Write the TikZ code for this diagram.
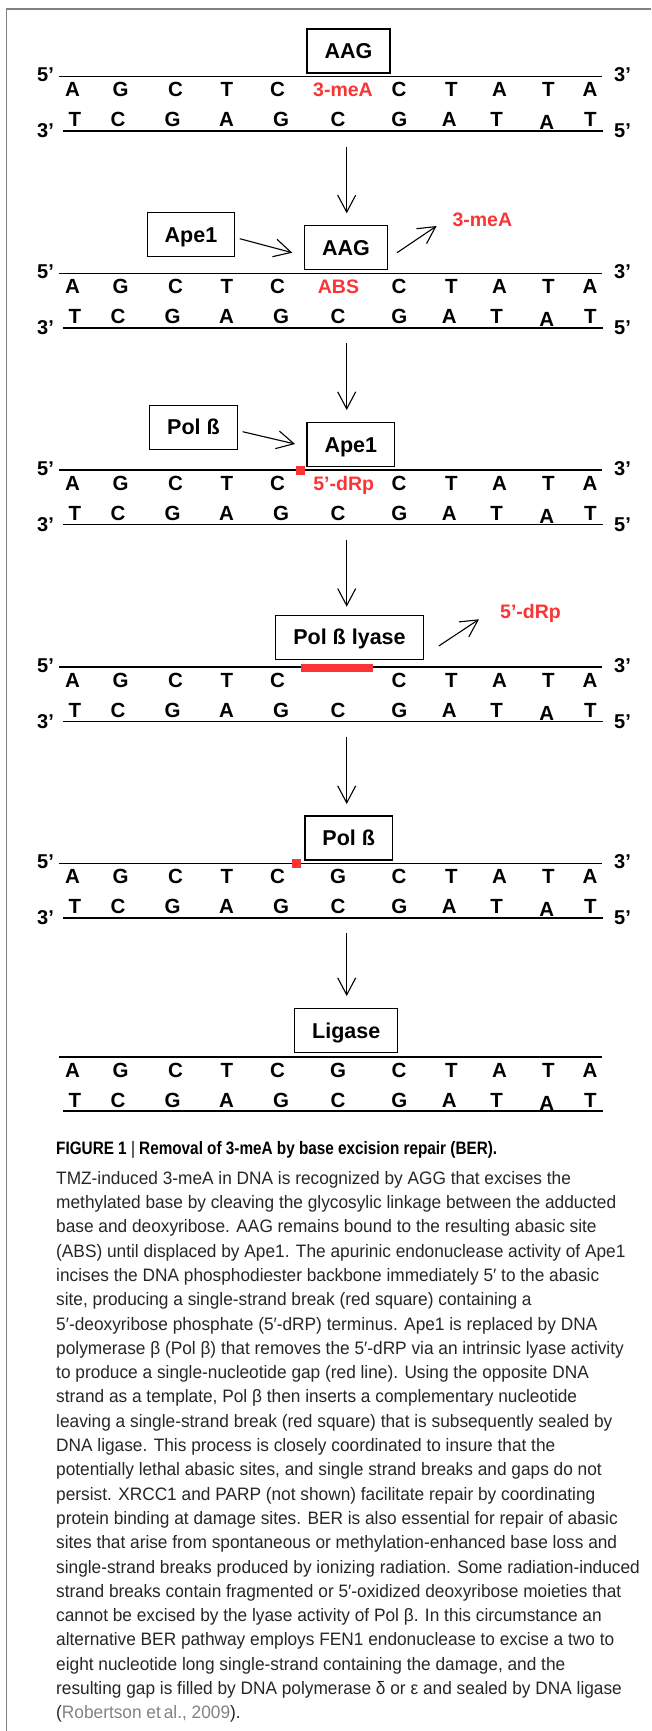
\documentclass[tikz,border=0pt]{standalone}
\usepackage{fontspec}
\setmainfont{Liberation Sans}
\newfontfamily\titlefont{Liberation Sans}[FakeStretch=0.85]
\newfontfamily\legendfont{Liberation Sans}[FakeStretch=0.96]
\usetikzlibrary{arrows.meta,calc}
\definecolor{lesion}{RGB}{250,52,52}
\definecolor{cite}{RGB}{130,130,130}
\tikzset{>={Straight Barb[length=17pt,width=18pt]}}
\def\nucfont{\fontsize{20.5}{20.5}\selectfont\bfseries}
\def\boxfont{\fontsize{21.5}{21.5}\selectfont\bfseries}
\def\endfont{\fontsize{20}{20}\selectfont\bfseries}
\def\redfont{\fontsize{19.5}{19.5}\selectfont\bfseries}

% duplex: top strand at y=#1, names start with #2 (site column left open)
\newcommand\dna[2]{%
  \coordinate (#2tl) at (59,#1);  \coordinate (#2tr) at (602,#1);
  \coordinate (#2bl) at (63,#1+54.5); \coordinate (#2br) at (603,#1+54.5);
  \draw[strand] (#2tl) -- (#2tr);
  \draw[strand] (#2bl) -- (#2br);
  \foreach \x/\b [count=\i] in {72.6/A,120.5/G,175.5/C,227/T,277.5/C,399/C,451.5/T,499.5/A,548.5/T,590/A}
    \node[nuc] (#2t\i) at (\x,#1+20.3) {\b};
  \foreach \x/\b/\d [count=\i] in {75/T/0,118/C/0,172.7/G/0,226.5/A/0,281/G/0,338/C/0,399.3/G/0,449.3/A/0,496.7/T/0,546.7/A/3,590.3/T/0}
    \node[nuc] (#2b\i) at (\x,#1+50.3+\d) {\b};
}
\newcommand\primes[2]{%
  \node[prime] (#2a) at (37,#1+5.3) {5’};
  \node[prime] (#2b) at (614,#1+5.3) {3’};
  \node[prime] (#2c) at (37,#1+61.3) {3’};
  \node[prime] (#2d) at (614,#1+61.3) {5’};
}

\begin{document}
\begin{tikzpicture}[x=1pt,y=-1pt,
    nuc/.style={font=\nucfont,inner sep=0pt,anchor=base},
    hit/.style={font=\redfont,text=lesion,inner sep=0pt},
    prime/.style={font=\endfont,inner sep=0pt,anchor=base west},
    enz/.style={draw,line width=1.3pt,font=\boxfont,inner xsep=17.5pt,
      inner ysep=14.3pt,text height=15.4pt,text depth=0pt},
    strand/.style={line width=1.6pt},
    flow/.style={->,line width=1.1pt},
    nick/.style={fill=lesion,minimum size=9.3pt,inner sep=0pt}]
  \useasboundingbox (0,0) rectangle (651,1731);
  % frame
  \draw[gray,line width=1.3pt] (6.7,1731) -- (6.7,9) -- (651,9);

  % AAG finds 3-meA
  \node[enz] (aag1) at (348.5,51) {AAG};
  \dna{76.7}{s1} \primes{76.7}{p1}
  \node[hit,anchor=base] (meA) at (343,97) {3-meA};

  % Ape1 displaces AAG
  \node[enz] (ape2) at (191,234.7) {Ape1};
  \node[enz] (aag2) at (346,247.7) {AAG};
  \node[hit] (meAout) at (482.3,220) {3-meA};
  \draw[flow] ($(ape2.east)+(4.3,4)$) -- ($(aag2.west)+(-11.7,5)$);
  \draw[flow] ($(aag2.east)+(9,5)$) -- ($(meAout.west)+(-15.7,6)$);
  \dna{273.3}{s2} \primes{273.3}{p2}
  \node[hit,anchor=base] (abs) at (338.5,293.6) {ABS};

  % Ape1 cuts 5' of the ABS
  \node[enz] (pol3) at (193.5,427.2) {Pol ß};
  \node[enz] (ape3) at (350.8,444.7) {Ape1};
  \draw[flow] ($(pol3.east)+(4.7,4.5)$) -- ($(ape3.west)+(-11.3,-0.7)$);
  \dna{470}{s3} \primes{470}{p3}
  \node[nick] (cut3) at (300.3,470.5) {};
  \node[hit,anchor=base] (drp) at (343.7,490.3) {5’-dRp};

  % Pol beta lyase removes 5'-dRp
  \node[enz] (lya4) at (349.5,637.2) {Pol ß lyase};
  \node[hit] (drpout) at (530.5,613.7) {5’-dRp};
  \draw[flow] ($(lya4.east)+(15,8.8)$) -- ($(drpout.west)+(-21,5.6)$);
  \dna{667}{s4} \primes{667}{p4}
  \draw[lesion,line width=8.7pt] (300.7,668) -- (373.3,668);

  % Pol beta fills the gap
  \node[enz] (pol5) at (348.7,838) {Pol ß};
  \dna{863.3}{s5} \primes{863.3}{p5}
  \node[nick] (cut5) at (296.4,863.7) {};
  \node[nuc] (fill5) at (338,883.6) {G};

  % ligase seals
  \node[enz] (lig6) at (346.2,1030.7) {Ligase};
  \dna{1056.7}{s6}
  \node[nuc] (fill6) at (338,1077) {G};

  % steps
  \foreach \i/\a/\b in {1/146.7/213.3,2/343/410,3/540/606.7,4/736.7/804,5/933/996}{
    \coordinate (f\i a) at (346.7,\a);
    \coordinate (f\i b) at (346.7,\b);
    \draw[flow] (f\i a) -- (f\i b);
  }

  % legend
  \node[anchor=base west,inner sep=0pt,font=\titlefont\fontsize{18}{18}\selectfont\bfseries]
    (title) at (56,1154) {FIGURE 1 {\mdseries|} Removal of 3-meA by base excision repair (BER).};
  \node[anchor=north west,inner sep=0pt,align=left,text=black!85,
    font=\legendfont\fontsize{18}{24.3}\selectfont] (legend) at (56,1171) {%
TMZ-induced 3-meA in DNA is recognized by AGG that excises the\\
methylated base by cleaving the glycosylic linkage between the adducted\\
base and deoxyribose. AAG remains bound to the resulting abasic site\\
(ABS) until displaced by Ape1. The apurinic endonuclease activity of Ape1\\
incises the DNA phosphodiester backbone immediately 5′ to the abasic\\
site, producing a single-strand break (red square) containing a\\
5′-deoxyribose phosphate (5′-dRP) terminus. Ape1 is replaced by DNA\\
polymerase β (Pol β) that removes the 5′-dRP via an intrinsic lyase activity\\
to produce a single-nucleotide gap (red line). Using the opposite DNA\\
strand as a template, Pol β then inserts a complementary nucleotide\\
leaving a single-strand break (red square) that is subsequently sealed by\\
DNA ligase. This process is closely coordinated to insure that the\\
potentially lethal abasic sites, and single strand breaks and gaps do not\\
persist. XRCC1 and PARP (not shown) facilitate repair by coordinating\\
protein binding at damage sites. BER is also essential for repair of abasic\\
sites that arise from spontaneous or methylation-enhanced base loss and\\
single-strand breaks produced by ionizing radiation. Some radiation-induced\\
strand breaks contain fragmented or 5′-oxidized deoxyribose moieties that\\
cannot be excised by the lyase activity of Pol β. In this circumstance an\\
alternative BER pathway employs FEN1 endonuclease to excise a two to\\
eight nucleotide long single-strand containing the damage, and the\\
resulting gap is filled by DNA polymerase δ or ε and sealed by DNA ligase\\
(\textcolor{cite}{Robertson et\,al., 2009}).};
\end{tikzpicture}
\end{document}
